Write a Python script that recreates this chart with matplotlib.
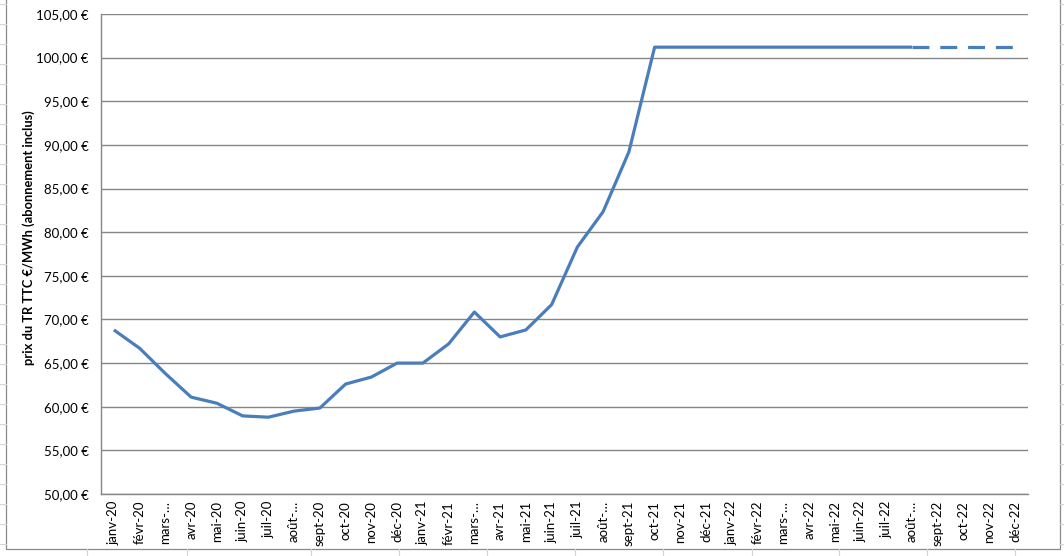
import matplotlib
matplotlib.use("Agg")
import matplotlib.pyplot as plt
from matplotlib.lines import Line2D
from matplotlib.patches import Rectangle

plt.rcParams["font.family"] = ["Lato", "DejaVu Sans"]

months = ["janv-", "févr-", "mars-", "avr-", "mai-", "juin-",
          "juil-", "août-", "sept-", "oct-", "nov-", "déc-"]
years = ["20", "21", "22"]
labels = [m + y for y in years for m in months]
# Excel truncates the long labels
labels = [l if not (l.startswith("mars") or l.startswith("août")) else l[:5] + "…"
          for l in labels]

prices = [68.8, 66.7, 63.8, 61.1, 60.4, 58.95, 58.8, 59.5, 59.85, 62.6, 63.4, 65.0,
          65.0, 67.2, 70.85, 68.0, 68.8, 71.7, 78.3, 82.35, 89.2, 101.2, 101.2, 101.2,
          101.2, 101.2, 101.2, 101.2, 101.2, 101.2, 101.2, 101.2, 101.2, 101.2, 101.2, 101.2]
last_real = 31  # août-22, after this the price is a projection (dashed)

yticks = list(range(50, 106, 5))
ytick_labels = [f"{v},00 €" for v in yticks]

W, H = 1064, 556
fig = plt.figure(figsize=(W / 100, H / 100), dpi=100)
fig.patch.set_facecolor("white")

# spreadsheet cells visible around the chart
cell = "#d4d4d4"
for y in range(4, H, 20):
    fig.add_artist(Line2D([0, 6 / W], [1 - y / H] * 2, color=cell, lw=0.8))
    fig.add_artist(Line2D([1060 / W, 1], [1 - y / H] * 2, color=cell, lw=0.8))
for x in [87, 187, 311, 399, 487, 575, 663, 752, 839, 927, 1015]:
    fig.add_artist(Line2D([x / W] * 2, [0, 1 - 549 / H], color=cell, lw=0.8))
# chart area border
fig.add_artist(Rectangle((6 / W, 1 - 549 / H), 1054 / W, 549 / H + 0.01,
                         fill=False, ec="#8a8a8a", lw=0.9))

ax = fig.add_axes([101 / W, 1 - 494 / H, 927 / W, 480 / H])
x = list(range(len(prices)))
col = "#4a7ebb"
ax.plot(x[:last_real + 1], prices[:last_real + 1], color=col, lw=2.3,
        solid_capstyle="butt", solid_joinstyle="round")
ax.plot(x[last_real:], prices[last_real:], color=col, lw=2.3,
        dashes=(5.3, 3.4), dash_capstyle="butt")

ax.set_xlim(-0.5, len(prices) - 0.5)
ax.set_ylim(50, 105)
ax.set_yticks(yticks)
ax.set_yticklabels(ytick_labels, fontsize=9.5)
ax.set_xticks(x)
ax.set_xticklabels(labels, rotation=90, fontsize=9.5)
ax.tick_params(axis="both", length=0, pad=9)
ax.tick_params(axis="x", pad=5)
ax.grid(axis="y", color="#868686", lw=1.0)
ax.set_axisbelow(True)
for s in ["top", "right"]:
    ax.spines[s].set_visible(False)
for s in ["left", "bottom"]:
    ax.spines[s].set_color("#868686")
    ax.spines[s].set_linewidth(1.0)
ax.set_ylabel("prix du TR TTC €/MWh (abonnement inclus)", fontsize=9.3,
              fontweight="bold", labelpad=5)
ax.yaxis.set_label_coords(-0.071, 0.535)

fig.savefig("out.png", dpi=100)
